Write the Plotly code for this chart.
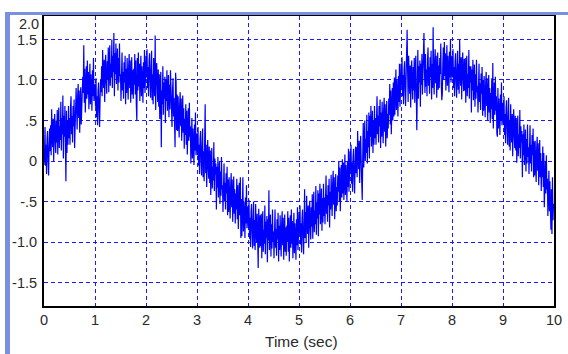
import numpy as np
import plotly.graph_objects as go

# Sampled signal, 0.01 s per sample, 0..10 s (each row = 0.25 s)
signal = [
    -0.05, 0.07, 0.42, -0.06, 0.20, -0.16, 0.27, 0.37, 0.02, -0.18, 0.17, 0.40, 0.12, 0.44, 0.07, 0.64, 0.32, 0.17, 0.52, 0.00, 0.42, 0.58, 0.24, 0.10, 0.50,
    0.23, 0.63, 0.08, 0.48, 0.66, 0.16, 0.43, 0.26, 0.73, 0.13, 0.53, 0.33, 0.81, 0.03, 0.56, 0.30, 0.68, 0.18, -0.25, 0.62, 0.10, 0.50, 0.20, 0.68, 0.28,
    0.53, 0.20, 0.66, 0.80, 0.33, 0.56, 0.23, 0.68, 0.43, 0.76, 0.16, 0.60, 0.47, 0.90, 0.63, 0.39, 0.80, 0.95, 0.53, 0.87, 0.35, 0.67, 0.91, 0.45, 0.75,
    0.67, 1.04, 0.84, 1.43, 0.72, 1.14, 0.60, 0.97, 1.17, 0.77, 1.24, 0.82, 1.10, 0.64, 1.00, 1.20, 0.70, 1.07, 0.87, 0.62, 1.12, 0.80, 1.27, 0.74, 0.94,
    0.94, 0.67, 1.02, 0.54, 0.80, 0.44, 0.87, 0.97, 0.62, 0.42, 0.77, 1.00, 0.85, 1.17, 0.80, 1.37, 1.05, 0.90, 1.25, 0.73, 1.15, 1.31, 0.97, 0.83, 1.23,
    1.00, 1.40, 0.85, 1.25, 1.43, 0.93, 1.20, 1.03, 1.50, 0.90, 1.30, 1.10, 1.58, 0.80, 1.33, 1.07, 1.45, 0.95, 1.17, 1.39, 0.87, 1.27, 0.97, 1.45, 1.05,
    1.07, 0.74, 1.20, 1.34, 0.87, 1.10, 0.77, 1.22, 0.97, 1.30, 0.70, 1.14, 0.84, 1.27, 1.00, 0.76, 1.17, 1.32, 0.90, 1.24, 0.72, 1.04, 1.28, 0.82, 1.12,
    0.77, 1.14, 0.94, 1.32, 0.82, 1.24, 0.70, 0.50, 1.27, 0.87, 1.34, 0.92, 1.20, 0.74, 1.10, 1.30, 0.80, 1.17, 0.97, 0.72, 1.22, 0.90, 1.37, 0.84, 1.04,
    1.30, 1.03, 1.38, 0.90, 1.16, 0.80, 1.23, 1.33, 0.98, 0.78, 1.13, 1.36, 0.75, 1.07, 0.70, 1.27, 0.95, 0.80, 1.55, 0.63, 1.05, 1.21, 0.87, 0.73, 1.13,
    0.67, 1.07, 0.52, 0.92, 1.10, 0.17, 0.87, 0.70, 1.17, 0.57, 0.97, 0.77, 1.04, 0.47, 1.00, 0.74, 1.12, 0.62, 0.84, 1.06, 0.54, 0.94, 0.64, 1.12, 0.72,
    0.75, 0.42, 0.88, 1.02, 0.55, 0.78, 0.45, 0.17, 1.09, 0.98, 0.38, 0.82, 0.37, 0.80, 0.53, 0.29, 0.70, 0.85, 0.43, 0.77, 0.25, 0.57, 0.81, 0.35, 0.65,
    0.15, 0.52, 0.32, 0.70, 0.20, 0.62, 0.08, 0.45, 0.65, 0.25, 0.72, 0.30, 0.43, -0.03, 0.33, 0.53, 0.03, 0.40, 0.20, -0.05, 0.45, 0.13, 0.60, 0.07, 0.27,
    0.34, 0.07, 0.42, -0.06, 0.20, -0.16, 0.27, 0.37, 0.02, -0.18, 0.17, 0.40, -0.20, 0.12, -0.25, 0.32, 0.70, -0.15, 0.20, -0.32, 0.10, 0.26, -0.08, -0.22, 0.18,
    -0.27, 0.13, -0.42, -0.02, 0.16, -0.34, -0.07, -0.24, 0.23, -0.37, 0.03, -0.17, -0.03, -0.60, -0.07, -0.33, 0.05, -0.45, -0.23, -0.01, -0.53, -0.13, -0.43, 0.05, -0.35,
    -0.30, -0.63, -0.17, -0.03, -0.50, -0.27, -0.60, -0.15, -0.40, -0.07, -0.67, -0.23, -0.63, -0.20, -0.47, -0.71, -0.30, -0.15, -0.57, -0.23, -0.75, -0.43, -0.19, -0.65, -0.35,
    -0.77, -0.40, -0.60, -0.22, -0.72, -0.30, -0.84, -0.47, -0.27, -0.67, -0.20, -0.95, -0.47, -0.93, -0.57, -0.20, -0.87, -0.50, -0.70, -0.95, -0.45, -0.77, -0.30, -0.83, -0.63,
    -0.56, -0.83, -0.48, -0.96, -0.70, -1.06, -0.63, -0.53, -0.88, -1.08, -0.73, -0.50, -1.05, -0.73, -1.10, -0.53, -0.85, -1.00, -0.65, -1.17, -1.32, -0.59, -0.93, -1.07, -0.67,
    -1.05, -0.65, -1.20, -0.80, -0.62, -1.12, -0.85, -1.02, -0.55, -1.15, -0.75, -0.95, -0.68, -1.25, -0.72, -0.98, -0.36, -1.10, -0.88, -0.66, -1.18, -0.78, -1.08, -0.60, -1.00,
    -0.87, -1.20, -0.74, -0.60, -1.07, -0.84, -1.17, -0.72, -0.97, -0.64, -1.24, -0.80, -1.10, -0.67, -0.94, -1.18, -0.77, -0.62, -1.04, -0.70, -1.22, -0.90, -0.66, -1.12, -0.82,
    -1.17, -0.80, -1.00, -0.62, -1.12, -0.70, -1.24, -0.87, -0.67, -1.07, -0.60, -1.02, -0.74, -1.20, -0.84, -0.64, -1.14, -0.77, -0.97, -1.22, -0.72, -1.04, -0.57, -1.10, -0.90,
    -0.63, -0.90, -0.55, -1.03, -0.77, -1.13, -0.70, -0.60, -0.95, -1.15, -0.80, -0.35, -0.95, -0.63, -1.00, -0.43, -0.75, -0.90, -0.55, -1.07, -0.65, -0.49, -0.83, -0.97, -0.57,
    -0.81, -0.41, -0.96, -0.56, -0.38, -0.88, -0.61, -0.78, -0.31, -0.91, -0.51, -0.71, -0.36, -0.93, -0.40, -0.66, -0.28, -0.78, -0.56, -0.34, -0.86, -0.46, -0.76, -0.28, -0.68,
    -0.45, -0.78, -0.32, -0.18, -0.65, -0.42, -0.75, -0.30, -0.55, -0.22, -0.82, -0.38, -0.60, -0.17, -0.44, -0.68, -0.27, -0.12, -0.54, -0.20, -0.72, -0.40, -0.16, -0.62, -0.32,
    -0.55, -0.18, -0.38, 0.00, -0.50, -0.08, -0.62, -0.25, -0.05, -0.45, 0.02, -0.40, -0.02, -0.48, -0.12, 0.08, -0.42, -0.05, -0.25, -0.50, 0.00, -0.32, 0.15, -0.38, -0.18,
    0.12, -0.15, 0.20, -0.28, -0.02, -0.38, 0.05, 0.15, -0.20, -0.40, -0.05, 0.18, -0.15, 0.17, -0.20, 0.37, 0.05, -0.10, 0.25, -0.27, 0.15, 0.31, -0.03, -0.17, -0.48,
    0.07, 0.47, -0.08, 0.32, 0.50, 0.00, 0.27, 0.10, 0.57, -0.03, 0.37, 0.17, 0.60, 0.03, 0.56, 0.30, 0.68, 0.18, 0.40, 0.62, 0.10, 0.50, 0.20, 0.68, 0.28,
    0.53, 0.20, 0.66, 0.80, 0.33, 0.56, 0.23, 0.68, 0.43, 0.76, 0.16, 0.60, 0.30, 0.73, 0.46, 0.22, 0.63, 0.78, 0.36, 0.70, 0.18, 0.50, 0.74, 0.28, 0.58,
    0.40, 0.77, 0.57, 0.95, 0.45, 0.87, 0.33, 0.70, 0.90, 0.50, 0.97, 0.55, 1.03, 0.57, 0.93, 1.13, 0.63, 1.00, 0.80, 0.55, 1.05, 0.73, 1.20, 0.67, 0.87,
    1.20, 0.93, 1.28, 0.80, 1.06, 0.70, 1.13, 1.23, 0.88, 0.68, 1.03, 1.26, 1.62, 1.10, 0.73, 1.30, 0.98, 0.83, 1.18, 0.66, 1.08, 1.24, 0.90, 0.76, 1.16,
    0.87, 1.27, 0.72, 1.12, 1.30, 0.80, 0.38, 0.90, 1.37, 0.77, 1.17, 0.97, 1.24, 0.67, 1.20, 0.94, 1.32, 0.82, 1.04, 1.26, 1.58, 1.14, 0.84, 1.32, 0.92,
    1.13, 0.80, 1.26, 1.40, 0.93, 1.16, 0.83, 1.28, 1.03, 1.36, 0.76, 1.20, 0.90, 1.65, 1.06, 0.82, 1.23, 1.38, 0.96, 1.30, 0.78, 1.10, 1.34, 0.88, 1.18,
    0.90, 1.27, 1.07, 1.45, 0.95, 0.75, 0.83, 1.20, 1.40, 1.00, 1.47, 1.05, 1.33, 0.87, 1.23, 1.43, 0.93, 1.30, 1.10, 0.85, 1.35, 1.03, 1.50, 0.97, 1.17,
    1.30, 1.03, 1.38, 0.90, 1.16, 0.80, 1.23, 1.33, 0.98, 0.78, 1.13, 1.36, 0.88, 1.20, 0.83, 1.50, 1.08, 0.93, 1.28, 0.76, 1.18, 1.34, 1.00, 0.86, 1.26,
    0.87, 1.27, 0.72, 1.12, 1.30, 0.80, 1.07, 0.90, 1.37, 0.77, 1.17, 0.97, 1.17, 0.60, 1.13, 0.87, 1.25, 0.75, 0.97, 1.19, 0.67, 1.07, 0.77, 1.25, 0.85,
    0.93, 0.60, 1.06, 1.20, 0.73, 0.96, 0.63, 1.08, 0.83, 1.16, 0.56, 1.00, 0.62, 1.05, 0.78, 0.54, 0.95, 1.10, 0.68, 1.02, 0.50, 0.82, 1.06, 0.60, 0.90,
    0.47, 0.84, 0.64, 1.02, 0.52, 1.21, 0.40, 0.77, 0.97, 0.57, 1.04, 0.62, 0.80, 0.34, 0.30, 0.90, 0.40, 0.77, 0.57, 0.32, 0.82, 0.50, 0.97, 0.44, 0.64,
    0.72, 0.45, 0.80, 0.32, 0.58, 0.22, 0.65, 0.75, 0.40, 0.20, 0.55, 0.78, 0.18, 0.50, 0.13, 0.70, 0.38, 0.23, 0.58, 0.06, 0.48, 0.64, 0.30, 0.16, 0.56,
    0.13, 0.53, -0.02, 0.38, 0.56, 0.06, 0.33, 0.16, 0.63, 0.03, 0.43, 0.23, 0.37, -0.20, 0.33, 0.07, 0.45, -0.05, 0.17, 0.39, -0.13, 0.27, -0.03, 0.45, 0.05,
    0.17, -0.16, 0.30, 0.44, -0.03, 0.20, -0.13, 0.32, 0.07, 0.40, -0.20, 0.24, -0.18, 0.25, -0.02, -0.26, 0.15, 0.30, -0.12, 0.22, -0.30, 0.02, 0.26, -0.20, 0.10,
    -0.37, 0.00, -0.20, 0.18, -0.32, 0.10, -0.57, -0.20, 0.00, -0.40, 0.07, -0.35, -0.22, -0.68, -0.32, -0.12, -0.62, -0.25, -0.60, -0.85, -0.35, -0.90, -0.20, -0.73, -0.53, -0.58,
]
time = np.linspace(0.0, 10.0, len(signal))

x_ticks = list(range(0, 11))
y_tick_vals = [-1.5, -1.0, -0.5, 0.0, 0.5, 1.0, 1.5]
y_tick_text = ["-1.5", "-1.0", "-.5", "0", ".5", "1.0", "1.5"]

TXT = "#2a2a2a"
FRAME = "#7890dd"
FONT = "Liberation Sans, Arial, sans-serif"

# plot area in pixels: left 44, right 554, top 16, bottom 306
L, R, T, B = 44, 554, 16, 306
W, H = R - L, B - T


def px(x):
    return (x - L) / W


def py(y):
    return (B - y) / H


fig = go.Figure()
fig.add_trace(go.Scatter(
    x=time, y=signal, mode="lines",
    line=dict(color="#0000ff", width=1.2),
    showlegend=False, hoverinfo="skip",
))

axis_common = dict(
    showgrid=True, gridcolor="#1a1aff", gridwidth=1.2, griddash="4px,3px",
    showline=True, linecolor="black", linewidth=2, mirror=True,
    zeroline=False, ticks="", automargin=False,
    tickfont=dict(family=FONT, size=14.5, color=TXT),
)

fig.update_layout(
    width=568, height=354,
    margin=dict(l=L, r=568 - R, t=T, b=354 - B),
    paper_bgcolor="white", plot_bgcolor="white",
    xaxis=dict(range=[0, 10], tickvals=x_ticks, ticktext=[str(v) for v in x_ticks],
               ticklabelstandoff=0, **axis_common),
    yaxis=dict(range=[-1.79, 1.79], tickvals=y_tick_vals, ticktext=y_tick_text,
               ticklabelstandoff=2, **axis_common),
    shapes=[
        # window frame: top bar and left bar
        dict(type="rect", xref="paper", yref="paper",
             x0=px(5), x1=px(568), y0=py(15), y1=py(12),
             fillcolor=FRAME, line=dict(width=0), layer="above"),
        dict(type="rect", xref="paper", yref="paper",
             x0=px(5), x1=px(10), y0=py(354), y1=py(12),
             fillcolor=FRAME, line=dict(width=0), layer="above"),
    ],
    annotations=[
        # top tick label sits just above the 1.5 label
        dict(text="2.0", xref="paper", yref="paper", x=px(41), y=py(24),
             xanchor="right", yanchor="middle", showarrow=False,
             font=dict(family=FONT, size=14.5, color=TXT)),
        dict(text="Time (sec)", xref="paper", yref="paper", x=px(301), y=py(341),
             xanchor="center", yanchor="middle", showarrow=False,
             font=dict(family=FONT, size=15.5, color=TXT)),
    ],
)

fig.write_html("out.html")
